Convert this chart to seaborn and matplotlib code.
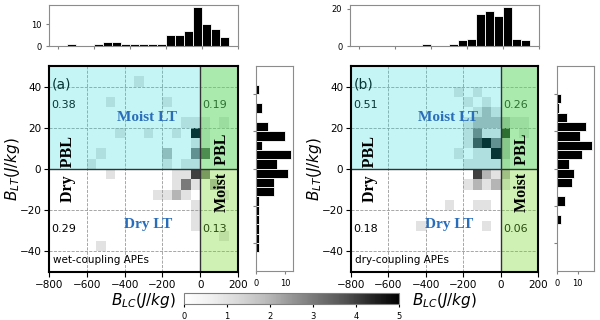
import numpy as np
import matplotlib
matplotlib.use("Agg")
import matplotlib.pyplot as plt
import seaborn as sns

# bin left edges for the marginal histograms
x_left = [-800, -750, -700, -650, -600, -550, -500, -450, -400, -350,
          -300, -250, -200, -150, -100, -50, 0, 50, 100, 150]
y_left = [-50, -45, -40, -35, -30, -25, -20, -15, -10, -5,
          0, 5, 10, 15, 20, 25, 30, 35, 40, 45]

# (a) wet-coupling
top_a = [0, 1, 0, 0, 1, 2, 2, 1, 1, 1, 1, 1, 5, 5, 7, 18, 10, 8, 4, 0]
right_a = [0, 1, 1, 1, 1, 1, 1, 6, 6, 11, 7, 12, 2, 10, 4, 0, 2, 0, 1, 0]
# nonzero 2d cells (bin centres) and counts
cell_a_x = [-325, -475, -175, -75, -25, 25, 125, -425, -275, -125, -25, 25,
            -25, 25, -525, -175, -25, 25, -575, -175, -75, -25,
            -475, -125, -75, -25, 25, -125, -75, -25, 75,
            -225, -175, -125, -75, 125, -25, -25, -25, 125, -525]
cell_a_y = [42.5, 32.5, 32.5, 22.5, 22.5, 22.5, 22.5, 17.5, 17.5, 17.5, 17.5, 17.5,
            12.5, 12.5, 7.5, 7.5, 7.5, 7.5, 2.5, 2.5, 2.5, 2.5,
            -2.5, -2.5, -2.5, -2.5, -2.5, -7.5, -7.5, -7.5, -7.5,
            -12.5, -12.5, -12.5, -12.5, -12.5, -17.5, -22.5, -27.5, -32.5, -37.5]
cell_a_n = [1, 1, 1, 1, 1, 1, 1, 1, 1, 1, 5, 1,
            1, 1, 1, 2, 3, 4, 1, 1, 1, 1,
            1, 1, 1, 4, 3, 1, 3, 1, 2,
            1, 1, 2, 1, 1, 1, 1, 1, 1, 1]

# (b) dry-coupling
top_b = [0, 0, 0, 0, 0, 0, 0, 1, 0, 0, 1, 3, 4, 17, 19, 16, 21, 4, 3, 0]
right_b = [0, 0, 0, 0, 2, 0, 4, 0, 7, 8, 6, 12, 17, 11, 14, 5, 1, 2, 0, 0]
cell_b_x = [-225, -125, -175, -75, -125, -75, -25,
            -175, -125, -75, -25, 25, 75, 125,
            -175, -125, -75, -25, 25, 125,
            -175, -125, -75, -25, 25,
            -225, -125, -75, -25, 25,
            -175, -125, -75, -25, 25,
            -125, -75, -25, 25,
            -175, -125, -75, -25, 25,
            -275, -125, -75, -425, -75]
cell_b_y = [37.5, 37.5, 32.5, 32.5, 27.5, 27.5, 27.5,
            22.5, 22.5, 22.5, 22.5, 22.5, 22.5, 22.5,
            17.5, 17.5, 17.5, 17.5, 17.5, 17.5,
            12.5, 12.5, 12.5, 12.5, 12.5,
            7.5, 7.5, 7.5, 7.5, 7.5,
            2.5, 2.5, 2.5, 2.5, 2.5,
            -2.5, -2.5, -2.5, -2.5,
            -7.5, -7.5, -7.5, -7.5, -7.5,
            -17.5, -17.5, -17.5, -27.5, -27.5]
cell_b_n = [1, 1, 1, 1, 1, 2, 1,
            1, 2, 2, 2, 2, 1, 1,
            1, 3, 1, 1, 5, 1,
            1, 4, 5, 3, 2,
            1, 1, 1, 5, 2,
            1, 1, 1, 1, 1,
            4, 2, 1, 2,
            1, 2, 1, 2, 1,
            1, 1, 1, 1, 1]

fracs_a = ["0.38", "0.19", "0.29", "0.13"]
fracs_b = ["0.51", "0.26", "0.18", "0.06"]

x_centres = np.array(x_left) + 25
y_centres = np.array(y_left) + 2.5

fig = plt.figure(figsize=(6, 3.2), dpi=100)
W, H = 600, 320


def box(l, t, r, b):
    return [l / W, (H - b) / H, (r - l) / W, (b - t) / H]


cax = fig.add_axes(box(184, 293, 399, 304))


def panel(main_pos, top_pos, right_pos, cx, cy, cn, top, right, fracs, tag, name, cbar):
    ax = fig.add_axes(main_pos)
    axt = fig.add_axes(top_pos)
    axr = fig.add_axes(right_pos)

    sns.histplot(x=cx, y=cy, weights=cn, binwidth=(50, 5),
                 binrange=((-800, 200), (-50, 50)), cmap="Greys",
                 vmin=0, vmax=5, ax=ax, cbar=cbar, cbar_ax=cax if cbar else None,
                 cbar_kws=dict(orientation="horizontal"))
    ax.axhspan(0, 50, color=(0.1, 0.85, 0.85), alpha=0.25, lw=0, zorder=2)
    ax.axvspan(0, 200, color=(0.47, 0.86, 0.16), alpha=0.35, lw=0, zorder=2)
    ax.axhline(0, color="#333333", lw=1, zorder=3)
    ax.axvline(0, color="#333333", lw=1, zorder=3)
    ax.set_xlim(-800, 200)
    ax.set_ylim(-50, 50)
    ax.set_xticks(range(-800, 201, 200))
    ax.set_yticks(range(-40, 41, 20))
    ax.grid(True, color="0.6", ls="--", lw=0.6, zorder=2.5)
    ax.tick_params(labelsize=7.5, pad=2)
    ax.set_xlabel(r"$B_{LC}(J/kg)$", fontsize=11, labelpad=1)
    ax.set_ylabel(r"$B_{LT}(J/kg)$", fontsize=11)
    ax.yaxis.set_label_coords(-0.145, 0.5)
    for s in ax.spines.values():
        s.set_linewidth(1.5)
        s.set_zorder(5)

    ax.text(-785, 41, tag, fontsize=10, va="center", zorder=1.8)
    ax.text(-790, 31, fracs[0], fontsize=8, va="center", zorder=1.8)
    ax.text(12, 31, fracs[1], fontsize=8, va="center", zorder=1.8)
    ax.text(-790, -29, fracs[2], fontsize=8, va="center", zorder=1.8)
    ax.text(12, -29, fracs[3], fontsize=8, va="center", zorder=1.8)
    ax.text(-780, -44, name, fontsize=7.5, va="center", zorder=6)
    serif = dict(family="Liberation Serif", fontweight="bold", zorder=6,
                 ha="center", va="center")
    ax.text(-280, 25, "Moist LT", fontsize=11, color="#2a6ebb", **serif)
    ax.text(-275, -27, "Dry LT", fontsize=11, color="#2a6ebb", **serif)
    ax.text(-700, 0, "Dry  PBL", fontsize=11.5, rotation=90, color="black", **serif)
    ax.text(117, -2, "Moist  PBL", fontsize=11.5, rotation=90, color="black", **serif)

    sns.histplot(x=x_centres, weights=top, binwidth=50, binrange=(-800, 200),
                 color="black", edgecolor="white", linewidth=0.6, alpha=1, ax=axt)
    axt.set_xlim(-850, 200)
    axt.set_xticks(range(-800, 201, 200))
    axt.set_xticklabels([])
    axt.set_yticks([0, 10] if max(top) < 20 else [0, 20])
    axt.set_xlabel("")
    axt.set_ylabel("")
    axt.tick_params(labelsize=6, length=2, color="0.5")

    sns.histplot(y=y_centres, weights=right, binwidth=5, binrange=(-50, 50),
                 color="black", edgecolor="white", linewidth=0.6, alpha=1, ax=axr)
    axr.set_ylim(-55, 55)
    axr.set_yticks(range(-40, 41, 20))
    axr.set_yticklabels([])
    axr.set_xticks([0, 10])
    axr.set_xlabel("")
    axr.set_ylabel("")
    axr.tick_params(labelsize=6, length=2, color="0.5")
    for a in (axt, axr):
        for s in a.spines.values():
            s.set_color("0.55")


panel(box(49, 66, 238, 272), box(49, 5, 238, 46), box(256, 66, 293, 271),
      cell_a_x, cell_a_y, cell_a_n, top_a, right_a, fracs_a, "(a)",
      "wet-coupling APEs", True)
panel(box(351, 66, 538, 272), box(350, 5, 539, 46), box(557, 66, 594, 271),
      cell_b_x, cell_b_y, cell_b_n, top_b, right_b, fracs_b, "(b)",
      "dry-coupling APEs", False)

cax.set_xticks(range(0, 6))
cax.tick_params(labelsize=6, length=2)
cax.set_xlabel("")
for s in cax.spines.values():
    s.set_color("0.5")

fig.savefig("out.png", dpi=100)
